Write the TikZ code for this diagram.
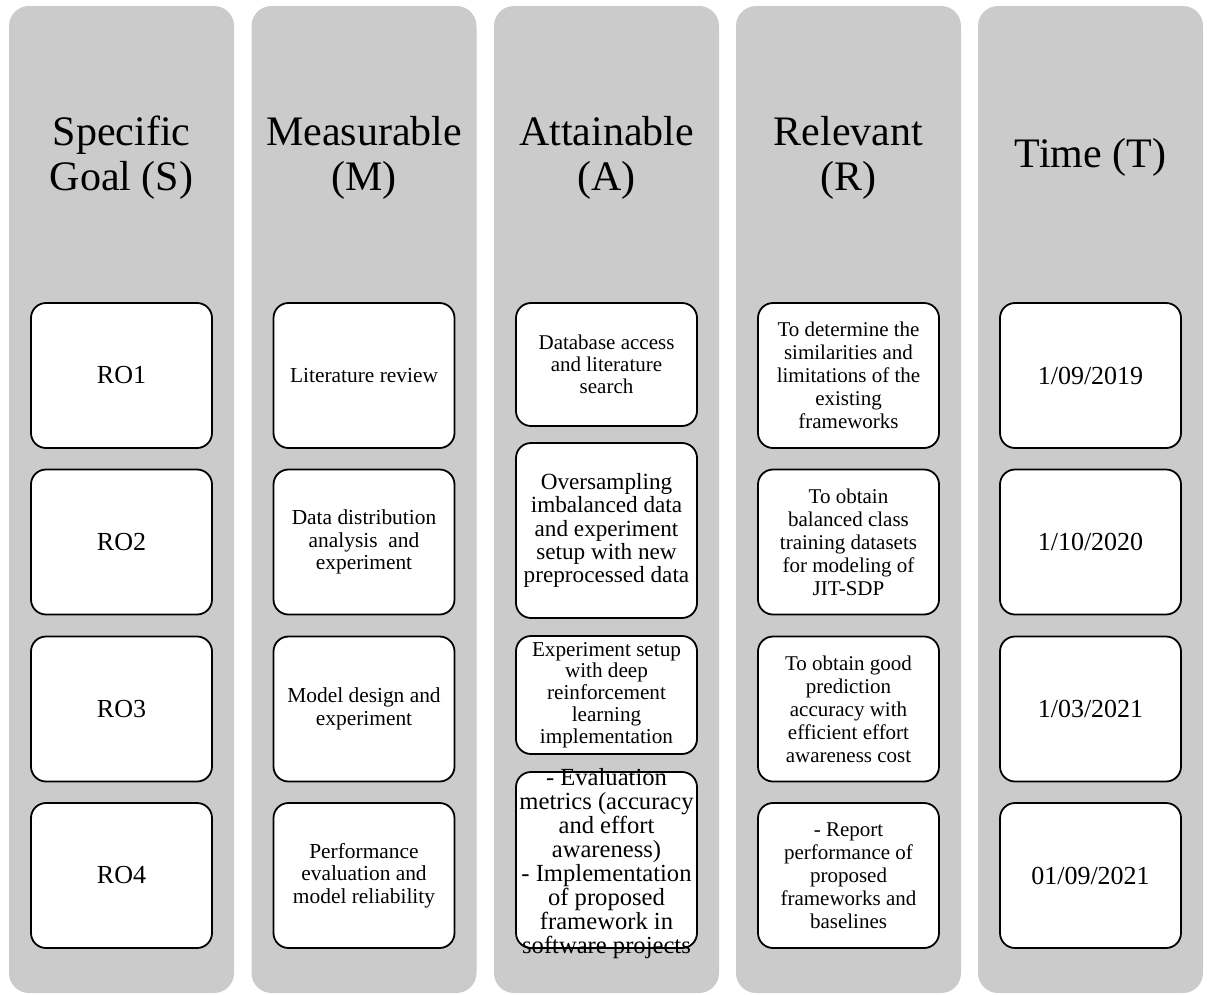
\documentclass[tikz,border=0pt]{standalone}
\usepackage{fontspec}
\setmainfont{Liberation Serif}
\definecolor{colgrey}{HTML}{CBCBCB}
\begin{document}
\begin{tikzpicture}[x=1pt,y=-1pt,
  lane/.style={fill=colgrey, draw=none, rounded corners=20pt,
    minimum width=225pt, minimum height=987pt, inner sep=0pt},
  heading/.style={font=\fontsize{42}{45}\selectfont, align=center, inner sep=0pt},
  card/.style={draw=black, line width=1.8pt, fill=white, rounded corners=15pt,
    minimum width=181pt, minimum height=145pt, inner sep=0pt, outer sep=0pt, align=center},
  big/.style={font=\fontsize{26}{28}\selectfont},
  mid/.style={font=\fontsize{21.4}{22.7}\selectfont},
  rel/.style={font=\fontsize{21}{23}\selectfont},
]
\useasboundingbox (0,0) rectangle (1207,994);

% grey lanes
\node[lane] (laneS) at (121.5,499.5) {};
\node[lane] (laneM) at (364,499.5) {};
\node[lane] (laneA) at (606.5,499.5) {};
\node[lane] (laneR) at (848.5,499.5) {};
\node[lane] (laneT) at (1090.5,499.5) {};

% lane headings
\node[heading] (hS) at (121.5,157.5) {Specific\\Goal (S)};
\node[heading] (hM) at (364,157.5) {Measurable\\(M)};
\node[heading] (hA) at (606.5,157.5) {Attainable\\(A)};
\node[heading] (hR) at (848.5,157.5) {Relevant\\(R)};
\node[heading] (hT) at (1090.5,157.5) {Time (T)};

% specific goals
\node[card,big] (s1) at (121.5,375.5) {RO1};
\node[card,big] (s2) at (121.5,542) {RO2};
\node[card,big] (s3) at (121.5,709) {RO3};
\node[card,big] (s4) at (121.5,875.5) {RO4};

% measurable
\node[card,mid] (m1) at (364,375.5) {Literature review};
\node[card,mid] (m2) at (364,542) {Data distribution\\analysis~ and\\experiment};
\node[card,mid] (m3) at (364,709) {Model design and\\experiment};
\node[card,mid] (m4) at (364,875.5) {Performance\\evaluation and\\model reliability};

% attainable
\node[card, minimum height=123pt, font=\fontsize{21}{21.8}\selectfont] (a1) at (606.5,364.5)
  {Database access\\and literature\\search};
\node[card, minimum height=175pt, font=\fontsize{23.2}{23.3}\selectfont] (a2) at (606.5,530.5)
  {Oversampling\\imbalanced data\\and experiment\\setup with new\\preprocessed data};
\node[card, minimum height=118pt, font=\fontsize{21.2}{21.8}\selectfont] (a3) at (606.5,695)
  {Experiment setup\\with deep\\reinforcement\\learning\\implementation};
% the last card's text runs past its frame, so the frame is drawn over it
\node[card, draw=none, minimum height=176pt] (a4) at (606.5,860) {};
\node[align=center, inner sep=0pt, font=\fontsize{24.6}{24}\selectfont] (a4t) at (606.5,863.3)
  {- Evaluation\\metrics (accuracy\\and effort\\awareness)\\- Implementation\\of proposed\\framework in\\software projects};
\draw[line width=1.8pt, rounded corners=15pt] (a4.south west) rectangle (a4.north east);

% relevant
\node[card,rel] (r1) at (848.5,375.5) {To determine the\\similarities and\\limitations of the\\existing\\frameworks};
\node[card,rel] (r2) at (848.5,542) {To obtain\\balanced class\\training datasets\\for modeling of\\JIT-SDP};
\node[card,rel] (r3) at (848.5,709) {To obtain good\\prediction\\accuracy with\\efficient effort\\awareness cost};
\node[card,rel] (r4) at (848.5,875.5) {- Report\\performance of\\proposed\\frameworks and\\baselines};

% time
\node[card,big] (t1) at (1090.5,375.5) {1/09/2019};
\node[card,big] (t2) at (1090.5,542) {1/10/2020};
\node[card,big] (t3) at (1090.5,709) {1/03/2021};
\node[card,big] (t4) at (1090.5,875.5) {01/09/2021};
\end{tikzpicture}
\end{document}
